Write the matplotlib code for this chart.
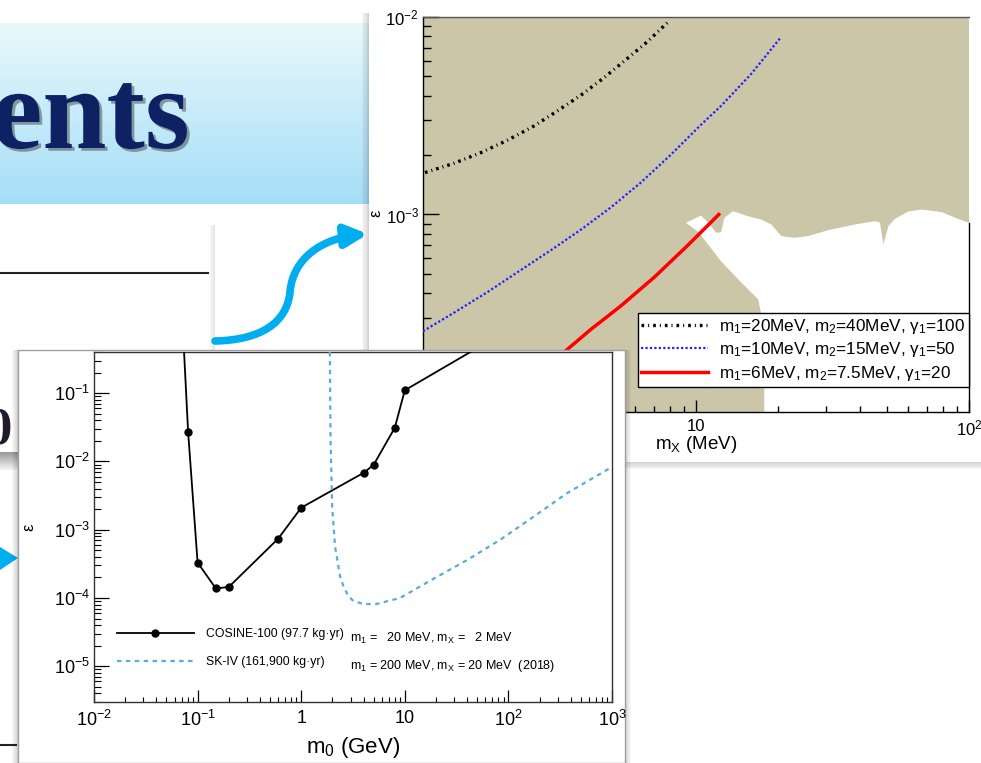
import numpy as np
import matplotlib
matplotlib.use('Agg')
import matplotlib.pyplot as plt
from matplotlib.patches import Rectangle, Polygon, FancyArrowPatch
from matplotlib.path import Path
import matplotlib.patheffects as pe
from matplotlib.ticker import LogLocator, FuncFormatter, NullFormatter

plt.rcParams['font.family'] = ['Liberation Sans', 'DejaVu Sans']
plt.rcParams['mathtext.fontset'] = 'custom'
plt.rcParams['mathtext.rm'] = 'Liberation Sans'
plt.rcParams['mathtext.it'] = 'Liberation Sans:italic'
plt.rcParams['mathtext.bf'] = 'Liberation Sans:bold'
plt.rcParams['mathtext.default'] = 'regular'

# ---------------- data: upper chart (epsilon vs m_X) ----------------
top_labels = ['m$_1$=20MeV, m$_2$=40MeV, γ$_1$=100',
              'm$_1$=10MeV, m$_2$=15MeV, γ$_1$=50',
              'm$_1$=6MeV, m$_2$=7.5MeV, γ$_1$=20']
bk_mx = [1.017, 1.29, 1.62, 2.03, 2.51, 3.06, 3.78, 4.58, 5.53, 6.64, 7.98]
bk_eps = [1.63e-3, 1.81e-3, 2.05e-3, 2.37e-3, 2.77e-3, 3.30e-3, 4.01e-3,
          4.90e-3, 6.07e-3, 7.50e-3, 9.55e-3]
bl_mx = [1.0, 1.289, 1.719, 2.273, 3.006, 3.842, 4.870, 6.279, 8.092, 10.43,
         12.36, 15.93, 20.36]
bl_eps = [2.565e-4, 3.162e-4, 4.04e-4, 5.215e-4, 6.73e-4, 8.50e-4, 1.085e-3,
          1.451e-3, 2.009e-3, 2.848e-3, 3.55e-3, 5.15e-3, 7.83e-3]
rd_mx = [3.19, 4.12, 5.30, 7.03, 9.32, 12.12]
rd_eps = [1.94e-4, 2.62e-4, 3.44e-4, 4.81e-4, 6.97e-4, 1.0e-3]
# allowed (white) region boundary
open_mx = [9.19, 10.43, 11.10, 11.85, 12.36, 12.71, 13.64, 14.23, 15.49, 17.34,
           18.87, 20.54, 22.98, 25.74, 30.50, 38.20, 45.24, 47.20, 48.58, 50.68,
           53.58, 60.02, 67.17, 79.56, 89.04, 100, 100, 17.78, 17.78, 16.90,
           14.64, 12.36, 10.25]
open_eps = [9.08e-4, 9.88e-4, 9.08e-4, 8.08e-4, 8.13e-4, 9.62e-4, 1.039e-3,
            1.020e-3, 9.80e-4, 9.43e-4, 8.90e-4, 7.77e-4, 7.62e-4, 7.77e-4,
            8.33e-4, 8.90e-4, 9.25e-4, 9.08e-4, 7.06e-4, 8.73e-4, 9.51e-4,
            1.036e-3, 1.060e-3, 1.027e-3, 9.62e-4, 9.08e-4, 1e-4, 1e-4,
            2.63e-4, 3.72e-4, 4.53e-4, 5.79e-4, 8.11e-4]

# ---------------- data: lower chart (epsilon vs m_0) ----------------
cos_label = 'COSINE-100 (97.7 kg·yr)'
cos_extra = 'm$_1$ =   20 MeV, m$_X$ =   2 MeV'
sk_label = 'SK-IV (161,900 kg·yr)'
sk_extra = 'm$_1$ = 200 MeV, m$_X$ = 20 MeV  (2018)'
cos_m0 = [0.074, 0.081, 0.10, 0.15, 0.20, 0.60, 1.0, 4.0, 5.0, 8.0, 10.0, 43.0]
cos_eps = [0.4, 0.027, 3.3e-4, 1.38e-4, 1.45e-4, 7.4e-4, 2.1e-3, 6.8e-3,
           8.9e-3, 0.031, 0.11, 0.4]
sk_m0 = [1.89, 1.92, 1.99, 2.12, 2.2, 2.37, 2.55, 2.85, 3.2, 3.98, 5.2, 9.0,
         18.8, 40, 83, 175, 365, 1000]
sk_eps = [0.4, 0.021, 2.2e-3, 5.7e-4, 4.1e-4, 2.09e-4, 1.5e-4, 1.07e-4, 9.0e-5,
          8.2e-5, 8.1e-5, 1.0e-4, 1.9e-4, 3.6e-4, 7.1e-4, 1.55e-3, 3.4e-3, 8.3e-3]

W, H = 981, 763
fig = plt.figure(figsize=(W / 100, H / 100), dpi=100)


def frac(l, t, r, b):
    return [l / W, 1 - b / H, (r - l) / W, (b - t) / H]


def layer(z):
    a = fig.add_axes([0, 0, 1, 1], zorder=z)
    a.set_xlim(0, W)
    a.set_ylim(H, 0)
    a.axis('off')
    a.patch.set_visible(False)
    return a


def vshadow(a, x_out, x_in, y0, y1, amax=0.35, n=6):
    for k in range(n):
        xa = x_out + (x_in - x_out) * k / n
        a.add_patch(Rectangle((xa, y0), (x_in - x_out) / n, y1 - y0,
                              color='black', alpha=amax * (k + 1) / n / 2, lw=0))


def hshadow(a, y_out, y_in, x0, x1, amax=0.35, n=6):
    for k in range(n):
        ya = y_out + (y_in - y_out) * k / n
        a.add_patch(Rectangle((x0, ya), x1 - x0, (y_in - y_out) / n,
                              color='black', alpha=amax * (k + 1) / n / 2, lw=0))


# ---------------- slide background ----------------
bg = layer(0)
c0 = np.array([0.91, 0.975, 0.985])
c1 = np.array([0.65, 0.87, 0.97])
g = np.linspace(0, 1, 200)[:, None, None]
bg.imshow(c0 + (c1 - c0) * g, extent=(0, 369, 204, 23), aspect='auto',
          origin='upper', zorder=0)
bg.text(190, 148, 'ents', fontsize=83, family='Liberation Serif', weight='bold',
        color='#0E2163', ha='right', va='baseline', zorder=2,
        path_effects=[pe.withSimplePatchShadow(offset=(2, -2), shadow_rgbFace='black', alpha=0.35)])
bg.plot([0, 208], [273, 273], color='#222222', lw=1.5, zorder=1)
vshadow(bg, 209, 215, 225, 352, amax=0.2)
bg.add_patch(FancyArrowPatch(path=Path([(215, 341), (262, 340), (287, 322), (290, 292),
                                        (293, 258), (322, 238), (368, 234)],
                                       [Path.MOVETO, Path.CURVE4, Path.CURVE4, Path.CURVE4,
                                        Path.CURVE4, Path.CURVE4, Path.CURVE4]),
                             arrowstyle='-|>,head_length=13,head_width=6.5',
                             lw=5.5, color='#00AEEF', mutation_scale=1, zorder=3))
bg.add_patch(Polygon([(0, 547), (18, 558), (0, 570)], closed=True, color='#00AEEF', lw=0))
bg.text(12, 443, '0', fontsize=38, family='Liberation Serif', weight='bold',
        color='#1F1A2E', ha='right', va='baseline')
gg = np.linspace(0, 1, 50)[:, None, None]
bg.imshow(np.array([0.6, 0.6, 0.6]) + (np.array([0.96, 0.96, 0.96]) - np.array([0.6, 0.6, 0.6])) * gg,
          extent=(0, 18, 470, 452), aspect='auto', origin='upper')
bg.plot([0, 16], [745, 745], color='#222222', lw=1.5)
bg.set_xlim(0, W)
bg.set_ylim(H, 0)

# ---------------- upper panel ----------------
L1 = layer(1)
vshadow(L1, 362, 369, 13, 468)
hshadow(L1, 469, 462, 369, W)
L1.add_patch(Rectangle((369, 13), W - 369, 449, color='white', lw=0))

ax_t = fig.add_axes(frac(423, 17, 969, 412), zorder=2)
ax_t.set_xscale('log')
ax_t.set_yscale('log')
ax_t.set_facecolor('#CCC6A9')
ax_t.fill(open_mx, open_eps, color='white', lw=0, zorder=1.5)
l1, = ax_t.plot(bk_mx, bk_eps, color='black', lw=2.4, ls=(0, (0.8, 1.2, 0.3, 1.2)), zorder=3)
l2, = ax_t.plot(bl_mx, bl_eps, color='#2020FF', lw=1.6, ls=(0, (1, 1)), zorder=3)
l3, = ax_t.plot(rd_mx, rd_eps, color='#FF0000', lw=2.5, zorder=3)
ax_t.set_xlim(1, 100)
ax_t.set_ylim(1e-4, 1e-2)
for s in ax_t.spines.values():
    s.set_linewidth(1.0)
ax_t.spines['top'].set_color('#555555')
ax_t.spines['right'].set_bounds(1e-4, 9.08e-4)


def top_xfmt(v, p):
    e = int(round(np.log10(v)))
    return {0: '1', 1: '10'}.get(e, r'$10^{%d}$' % e)


def yfmt(v, p):
    e = int(round(np.log10(v)))
    return r'$10^{%d}$' % e


ax_t.xaxis.set_major_locator(LogLocator(base=10, numticks=10))
ax_t.xaxis.set_minor_locator(LogLocator(base=10, subs=np.arange(2, 10), numticks=20))
ax_t.yaxis.set_minor_locator(LogLocator(base=10, subs=np.arange(2, 10), numticks=20))
ax_t.xaxis.set_major_formatter(FuncFormatter(top_xfmt))
ax_t.yaxis.set_major_formatter(FuncFormatter(yfmt))
ax_t.xaxis.set_minor_formatter(NullFormatter())
ax_t.yaxis.set_minor_formatter(NullFormatter())
ax_t.tick_params(axis='y', which='major', direction='in', length=11.5, width=1, labelsize=12, pad=3)
ax_t.tick_params(axis='y', which='minor', direction='in', length=5.8, width=1)
ax_t.tick_params(axis='x', which='major', direction='in', length=8.6, width=1, labelsize=12, pad=5)
ax_t.tick_params(axis='x', which='minor', direction='in', length=4.3, width=1)
ax_t.set_xlabel('m$_X$ (MeV)', fontsize=13.5)
ax_t.xaxis.set_label_coords(0.5, -0.055)
ax_t.set_ylabel('ε', fontsize=12, rotation=90)
ax_t.yaxis.set_label_coords(-0.072, 0.504)
leg_t = ax_t.legend([l1, l2, l3], top_labels, loc='upper right', bbox_to_anchor=(1.0, 0.251),
                    fontsize=12.3, frameon=True, fancybox=False, edgecolor='black',
                    framealpha=1, handlelength=3.9, handletextpad=0.64, borderpad=0.22,
                    labelspacing=0.28, borderaxespad=0)
leg_t.get_frame().set_linewidth(1.0)

# ---------------- lower panel ----------------
L2 = layer(3)
vshadow(L2, 12, 18, 350, H)
vshadow(L2, 631, 625, 350, H)
L2.add_patch(Rectangle((18, 350), 607, H - 350, facecolor='white', edgecolor='#A0A0A0', lw=1))

ax_b = fig.add_axes(frac(94, 352, 612, 702), zorder=4)
ax_b.set_xscale('log')
ax_b.set_yscale('log')
ax_b.set_facecolor('white')
c1l, = ax_b.plot(cos_m0, cos_eps, color='black', lw=1.3, marker='o', ms=5,
                 markevery=list(range(1, len(cos_m0) - 1)), zorder=3)
c2l, = ax_b.plot(sk_m0, sk_eps, color='#5AAADC', lw=1.6, ls=(0, (2, 2)), zorder=3)
ax_b.set_xlim(1e-2, 1e3)
ax_b.set_ylim(3e-6, 0.4)
for s in ax_b.spines.values():
    s.set_linewidth(1.0)
    s.set_color('#333333')


def bot_xfmt(v, p):
    e = int(round(np.log10(v)))
    return {0: '1', 1: '10'}.get(e, r'$10^{%d}$' % e)


ax_b.xaxis.set_major_locator(LogLocator(base=10, numticks=10))
ax_b.yaxis.set_major_locator(LogLocator(base=10, numticks=10))
ax_b.xaxis.set_minor_locator(LogLocator(base=10, subs=np.arange(2, 10), numticks=20))
ax_b.yaxis.set_minor_locator(LogLocator(base=10, subs=np.arange(2, 10), numticks=20))
ax_b.xaxis.set_major_formatter(FuncFormatter(bot_xfmt))
ax_b.yaxis.set_major_formatter(FuncFormatter(yfmt))
ax_b.xaxis.set_minor_formatter(NullFormatter())
ax_b.yaxis.set_minor_formatter(NullFormatter())
ax_b.tick_params(axis='y', which='major', direction='in', length=10.8, width=0.9, labelsize=13, pad=3)
ax_b.tick_params(axis='y', which='minor', direction='in', length=5, width=0.8)
ax_b.tick_params(axis='x', which='major', direction='in', length=8.6, width=0.9, labelsize=13, pad=6)
ax_b.tick_params(axis='x', which='minor', direction='in', length=3.8, width=0.8)
ax_b.set_xlabel('m$_0$ (GeV)', fontsize=16)
ax_b.xaxis.set_label_coords(0.5, -0.094)
ax_b.set_ylabel('ε', fontsize=12, rotation=90)
ax_b.yaxis.set_label_coords(-0.112, 0.5)
ax_b.legend([c1l, c2l], [cos_label, sk_label], loc='upper left', bbox_to_anchor=(0.044, 0.21),
            fontsize=8.8, frameon=False, handlelength=6.3, handletextpad=1.0,
            borderpad=0, labelspacing=1.3, borderaxespad=0)
ax_b.text(0.494, 0.183, cos_extra, transform=ax_b.transAxes, va='center', ha='left', fontsize=9)
ax_b.text(0.494, 0.103, sk_extra, transform=ax_b.transAxes, va='center', ha='left', fontsize=9)

fig.savefig('out.png', dpi=100)
